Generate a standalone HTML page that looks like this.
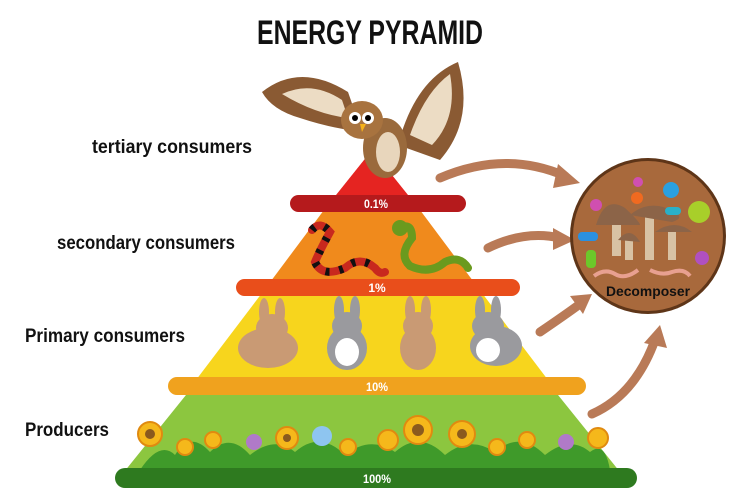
<!DOCTYPE html>
<html><head><meta charset="utf-8"><style>
html,body{margin:0;padding:0;background:#fff;}
svg{display:block;}
text{font-family:"Liberation Sans",sans-serif;font-weight:bold;}
</style></head><body>
<svg width="740" height="502" viewBox="0 0 740 502" xmlns="http://www.w3.org/2000/svg">
<rect width="740" height="502" fill="#fff"/>
<text x="370" y="44" text-anchor="middle" font-size="34" textLength="226" lengthAdjust="spacingAndGlyphs" fill="#111">ENERGY PYRAMID</text>

<polygon points="372,150 412,200 332,200" fill="#e52421"/>
<polygon points="324,210 420,210 476,285 268,285" fill="#f08a1c"/>
<polygon points="262,293 482,293 548,380 196,380" fill="#f7d51d"/>
<polygon points="190,390 554,390 620,472 124,472" fill="#8cc63f"/>
<path d="M140,470 Q160,440 175,455 Q190,430 210,452 Q230,432 250,455 Q275,435 295,452 Q320,430 345,455 Q370,435 395,452 Q420,430 445,455 Q470,435 495,452 Q520,430 545,455 Q570,435 590,452 Q605,440 610,470 Z" fill="#3f9a2a"/>

<rect x="290" y="195" width="176" height="17" rx="8.5" fill="#b51a1c"/>
<text x="376" y="208" text-anchor="middle" font-size="12" textLength="24" lengthAdjust="spacingAndGlyphs" fill="#fff">0.1%</text>
<rect x="236" y="279" width="284" height="17" rx="8.5" fill="#e94e1b"/>
<text x="377" y="292" text-anchor="middle" font-size="12" fill="#fff">1%</text>
<rect x="168" y="377" width="418" height="18" rx="9" fill="#f0a21e"/>
<text x="377" y="391" text-anchor="middle" font-size="12" textLength="22" lengthAdjust="spacingAndGlyphs" fill="#fff">10%</text>
<rect x="115" y="468" width="522" height="20" rx="10" fill="#2e7a1f"/>
<text x="377" y="483" text-anchor="middle" font-size="12" textLength="28" lengthAdjust="spacingAndGlyphs" fill="#fff">100%</text>

<!-- owl -->
<path d="M262,92 Q300,62 348,92 L362,132 Q330,128 300,118 Q272,110 262,92Z" fill="#8a5a33"/>
<path d="M458,62 Q475,120 440,160 L398,145 Q415,80 458,62Z" fill="#8a5a33"/>
<path d="M282,94 Q312,80 342,100 L348,118 Q315,114 282,94Z" fill="#ecdcc4"/>
<path d="M450,74 Q458,118 432,145 L410,135 Q425,92 450,74Z" fill="#ecdcc4"/>
<ellipse cx="385" cy="148" rx="22" ry="30" fill="#9a6a3c"/>
<ellipse cx="388" cy="152" rx="12" ry="20" fill="#e8d6bc"/>
<ellipse cx="362" cy="120" rx="21" ry="19" fill="#a8733f"/>
<circle cx="355" cy="118" r="6" fill="#fff"/><circle cx="368" cy="118" r="6" fill="#fff"/>
<circle cx="355" cy="118" r="3" fill="#000"/><circle cx="368" cy="118" r="3" fill="#000"/>
<path d="M360,124 L366,124 L362,132Z" fill="#f5b21b"/>

<!-- snakes -->
<path d="M312,230 Q320,220 330,232 Q320,250 315,262 Q322,278 345,268 Q360,255 375,268 Q380,275 385,272" fill="none" stroke="#c8281e" stroke-width="8" stroke-linecap="round"/>
<path d="M312,230 Q320,220 330,232 Q320,250 315,262 Q322,278 345,268 Q360,255 375,268" fill="none" stroke="#111" stroke-width="8" stroke-dasharray="4 10"/>
<path d="M400,228 Q412,222 412,238 Q398,255 410,266 Q430,275 445,262 Q460,255 468,268" fill="none" stroke="#6a9a1e" stroke-width="8" stroke-linecap="round"/>
<circle cx="400" cy="228" r="8" fill="#6a9a1e"/>

<!-- rabbits -->
<g fill="#c99a74">
<ellipse cx="268" cy="348" rx="30" ry="20"/><ellipse cx="272" cy="328" rx="16" ry="14"/>
<ellipse cx="264" cy="312" rx="5" ry="14"/><ellipse cx="280" cy="312" rx="5" ry="14"/>
<ellipse cx="418" cy="348" rx="18" ry="22"/><ellipse cx="418" cy="326" rx="15" ry="14"/>
<ellipse cx="410" cy="310" rx="5" ry="14"/><ellipse cx="426" cy="310" rx="5" ry="14"/>
</g>
<g fill="#9a9a9e">
<ellipse cx="347" cy="348" rx="20" ry="22"/><ellipse cx="347" cy="326" rx="15" ry="14"/>
<ellipse cx="339" cy="310" rx="5" ry="14"/><ellipse cx="355" cy="310" rx="5" ry="14"/>
<ellipse cx="496" cy="346" rx="26" ry="20"/><ellipse cx="488" cy="326" rx="16" ry="14"/>
<ellipse cx="480" cy="310" rx="5" ry="14"/><ellipse cx="496" cy="310" rx="5" ry="14"/>
</g>
<ellipse cx="347" cy="352" rx="12" ry="14" fill="#fff"/>
<ellipse cx="488" cy="350" rx="12" ry="12" fill="#fff"/>

<!-- flowers -->
<g fill="#f5b81b" stroke="#e08a10" stroke-width="2">
<circle cx="150" cy="434" r="12"/><circle cx="185" cy="447" r="8"/><circle cx="213" cy="440" r="8"/>
<circle cx="287" cy="438" r="11"/><circle cx="348" cy="447" r="8"/><circle cx="388" cy="440" r="10"/>
<circle cx="418" cy="430" r="14"/><circle cx="462" cy="434" r="13"/><circle cx="497" cy="447" r="8"/>
<circle cx="527" cy="440" r="8"/><circle cx="598" cy="438" r="10"/>
</g>
<circle cx="322" cy="436" r="10" fill="#8ec5f0"/><circle cx="254" cy="442" r="8" fill="#b07ac8"/><circle cx="566" cy="442" r="8" fill="#b07ac8"/>
<g fill="#8a5a1e"><circle cx="150" cy="434" r="5"/><circle cx="287" cy="438" r="4"/><circle cx="418" cy="430" r="6"/><circle cx="462" cy="434" r="5"/></g>

<!-- arrows -->
<g stroke="#b97a57" stroke-width="9" fill="none" stroke-linecap="round">
<path d="M440,178 Q505,150 565,176"/>
<path d="M488,248 Q525,230 560,238"/>
<path d="M540,332 Q565,315 580,304"/>
<path d="M592,414 Q635,395 655,340"/>
</g>
<g fill="#b97a57">
<polygon points="580,183 558,164 553,188"/>
<polygon points="575,240 553,228 553,250"/>
<polygon points="592,294 570,296 583,314"/>
<polygon points="660,325 644,343 667,348"/>
</g>

<!-- decomposer -->
<circle cx="648" cy="236" r="78" fill="#5e3518"/>
<circle cx="648" cy="236" r="75" fill="#a8693c"/>
<g fill="#d8c2a4">
<rect x="612" y="218" width="9" height="38"/>
<rect x="645" y="215" width="9" height="45"/>
<rect x="668" y="228" width="8" height="32"/>
<rect x="625" y="238" width="8" height="22"/>
</g>
<g fill="#8c6448">
<path d="M596,225 Q605,195 625,208 Q640,222 640,225Z"/>
<path d="M630,215 Q650,198 675,212 Q685,218 672,222Z"/>
<path d="M655,232 Q675,218 692,232Z"/>
<path d="M618,240 Q630,225 640,242Z"/>
</g>
<circle cx="699" cy="212" r="11" fill="#a8cf2a"/><circle cx="596" cy="205" r="6" fill="#d04fb0"/>
<circle cx="638" cy="182" r="5" fill="#d04fb0"/><circle cx="637" cy="198" r="6" fill="#f06a20"/>
<circle cx="671" cy="190" r="8" fill="#2aa0e0"/>
<rect x="665" y="207" width="16" height="8" rx="4" fill="#2ab0c8"/><rect x="578" y="232" width="20" height="9" rx="4" fill="#2a90e0"/>
<rect x="586" y="250" width="10" height="18" rx="4" fill="#6cc82a"/><circle cx="702" cy="258" r="7" fill="#b050c0"/>
<path d="M594,276 Q605,268 615,274 Q625,280 638,270" stroke="#e8a090" stroke-width="4" fill="none"/>
<path d="M650,270 Q662,276 672,272 Q684,268 690,276" stroke="#e8a090" stroke-width="4" fill="none"/>
<text x="648" y="296" text-anchor="middle" font-size="14" textLength="84" lengthAdjust="spacingAndGlyphs" fill="#111">Decomposer</text>

<!-- labels -->
<text x="92" y="153" font-size="19" textLength="160" lengthAdjust="spacingAndGlyphs" fill="#111">tertiary  consumers</text>
<text x="57" y="249" font-size="19" textLength="178" lengthAdjust="spacingAndGlyphs" fill="#111">secondary consumers</text>
<text x="25" y="342" font-size="19" textLength="160" lengthAdjust="spacingAndGlyphs" fill="#111">Primary consumers</text>
<text x="25" y="436" font-size="19" textLength="84" lengthAdjust="spacingAndGlyphs" fill="#111">Producers</text>
</svg>
</body></html>
